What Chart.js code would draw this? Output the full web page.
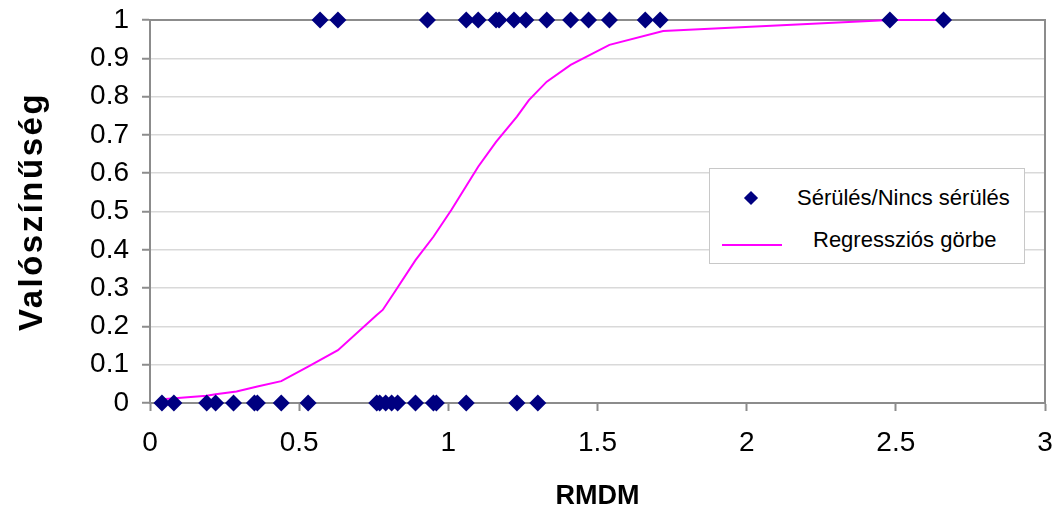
<!DOCTYPE html>
<html>
<head>
<meta charset="utf-8">
<script src="https://cdn.jsdelivr.net/npm/chart.js@4.4.1/dist/chart.umd.min.js"></script>
<style>
  body { margin: 0; background: #fff; font-family: "Liberation Sans", Arial, sans-serif; }
  #wrap { position: relative; width: 1058px; height: 508px; }
  #legend {
    position: absolute; left: 709px; top: 168px; width: 314px; height: 94px;
    border: 1px solid #c8c8c8; background: #fff; font-size: 22px; color: #000;
  }
  .row { position: absolute; left: 0; white-space: nowrap; line-height: 1; }
  .diamond {
    position: absolute; width: 10px; height: 10px; background: #000080;
    transform: rotate(45deg);
  }
  .pline { position: absolute; height: 2px; background: #ff00ff; }
</style>
</head>
<body>
<div id="wrap">
  <canvas id="chart" width="1058" height="508"></canvas>
  <div id="legend">
    <div class="diamond" style="left:36px; top:24px;"></div>
    <div class="row" style="left:87px; top:18px;">Sérülés/Nincs sérülés</div>
    <div class="pline" style="left:12px; top:75px; width:60px;"></div>
    <div class="row" style="left:103px; top:60px;">Regressziós görbe</div>
  </div>
</div>
<script>
// RMDM values where injury happened (y = 1) and where it did not (y = 0)
const injuryX = [0.57, 0.63, 0.93, 1.06, 1.10, 1.16, 1.17, 1.22, 1.26, 1.33, 1.41, 1.47, 1.54, 1.66, 1.71, 2.48, 2.66];
const noInjuryX = [0.04, 0.08, 0.19, 0.22, 0.28, 0.35, 0.36, 0.44, 0.53, 0.76, 0.77, 0.79, 0.81, 0.83, 0.89, 0.95, 0.96, 1.06, 1.23, 1.30];

// regression curve
const curveX = [0.04, 0.19, 0.22, 0.29, 0.36, 0.44, 0.53, 0.63, 0.76, 0.78, 0.82, 0.89, 0.95, 1.01, 1.10, 1.16, 1.23, 1.27, 1.33, 1.41, 1.54, 1.72, 2.48, 2.66];
const curveY = [0.010, 0.019, 0.023, 0.030, 0.043, 0.057, 0.095, 0.138, 0.230, 0.243, 0.290, 0.373, 0.434, 0.504, 0.617, 0.682, 0.748, 0.791, 0.839, 0.883, 0.935, 0.971, 1.0, 1.0];

const seriesNames = ['Sérülés/Nincs sérülés', 'Regressziós görbe'];
const xTitle = 'RMDM';
const yTitle = 'Valószínűség';

const FONT = '"Liberation Sans", Arial, sans-serif';

const points = injuryX.map(x => ({ x: x, y: 1 }))
    .concat(noInjuryX.map(x => ({ x: x, y: 0 })));
const curve = curveX.map((x, i) => ({ x: x, y: curveY[i] }));

// labels like Excel: 1 instead of 1.0
function plainLabel(value) {
    return String(Number(value.toFixed(2)));
}

// top and right edges of the plot frame
const framePlugin = {
    id: 'frame',
    beforeDatasetsDraw(chart) {
        const a = chart.chartArea;
        const ctx = chart.ctx;
        ctx.save();
        ctx.strokeStyle = '#8c8c8c';
        ctx.lineWidth = 2;
        ctx.beginPath();
        ctx.moveTo(a.left, a.top);
        ctx.lineTo(a.right, a.top);
        ctx.lineTo(a.right, a.bottom);
        ctx.stroke();
        ctx.restore();
    }
};

// the y title in the picture is stretched, add a bit of letter spacing
const spacedTitle = {
    id: 'spacedTitle',
    afterLayout(chart) {
        const s = chart.scales.y;
        if (s._spaced) return;
        const orig = s.drawTitle;
        s.drawTitle = function() {
            this.ctx.save();
            this.ctx.letterSpacing = '2.5px';
            orig.call(this);
            this.ctx.restore();
        };
        s._spaced = true;
    }
};

function noPadding(scale) {
    scale.paddingLeft = 0;
    scale.paddingRight = 0;
    scale.paddingTop = 0;
    scale.paddingBottom = 0;
}

const ctx = document.getElementById('chart').getContext('2d');
const chart = new Chart(ctx, {
    type: 'scatter',
    data: {
        datasets: [{
            label: seriesNames[0],
            data: points,
            pointStyle: 'rectRot',
            pointRadius: 8.5,
            pointHoverRadius: 8.5,
            backgroundColor: '#000080',
            borderColor: '#000080',
            borderWidth: 0,
            clip: false
        }, {
            label: seriesNames[1],
            data: curve,
            showLine: true,
            pointRadius: 0,
            borderColor: '#ff00ff',
            borderWidth: 2,
            tension: 0,
            clip: false
        }]
    },
    options: {
        responsive: false,
        animation: false,
        layout: { padding: { top: 20, right: 13, left: 0, bottom: 0 } },
        plugins: {
            legend: { display: false },
            tooltip: { enabled: false }
        },
        scales: {
            x: {
                type: 'linear',
                min: 0,
                max: 3,
                ticks: {
                    stepSize: 0.5,
                    color: '#000',
                    font: { family: FONT, size: 28 },
                    padding: 15,
                    maxRotation: 0,
                    callback: plainLabel
                },
                grid: {
                    drawOnChartArea: false,
                    tickLength: 8,
                    tickColor: '#8c8c8c',
                    tickWidth: 2
                },
                border: { color: '#8c8c8c', width: 2 },
                title: {
                    display: true,
                    text: xTitle,
                    color: '#000',
                    font: { family: FONT, size: 27, weight: 'bold', lineHeight: 1 },
                    padding: { top: 0, bottom: -2 }
                },
                afterFit(scale) {
                    scale.height = 105;
                    noPadding(scale);
                }
            },
            y: {
                min: 0,
                max: 1,
                ticks: {
                    stepSize: 0.1,
                    color: '#000',
                    font: { family: FONT, size: 28 },
                    padding: 13,
                    callback: plainLabel
                },
                grid: {
                    color: '#d9d9d9',
                    lineWidth: 1.5,
                    tickLength: 8,
                    tickColor: '#8c8c8c',
                    tickWidth: 2
                },
                border: { color: '#8c8c8c', width: 2 },
                title: {
                    display: true,
                    text: yTitle,
                    color: '#000',
                    font: { family: FONT, size: 33, weight: 'bold', lineHeight: 1 },
                    padding: { top: 16, bottom: 0 }
                },
                afterFit(scale) {
                    scale.width = 150;
                    noPadding(scale);
                }
            }
        }
    },
    plugins: [framePlugin, spacedTitle]
});
</script>
</body>
</html>
